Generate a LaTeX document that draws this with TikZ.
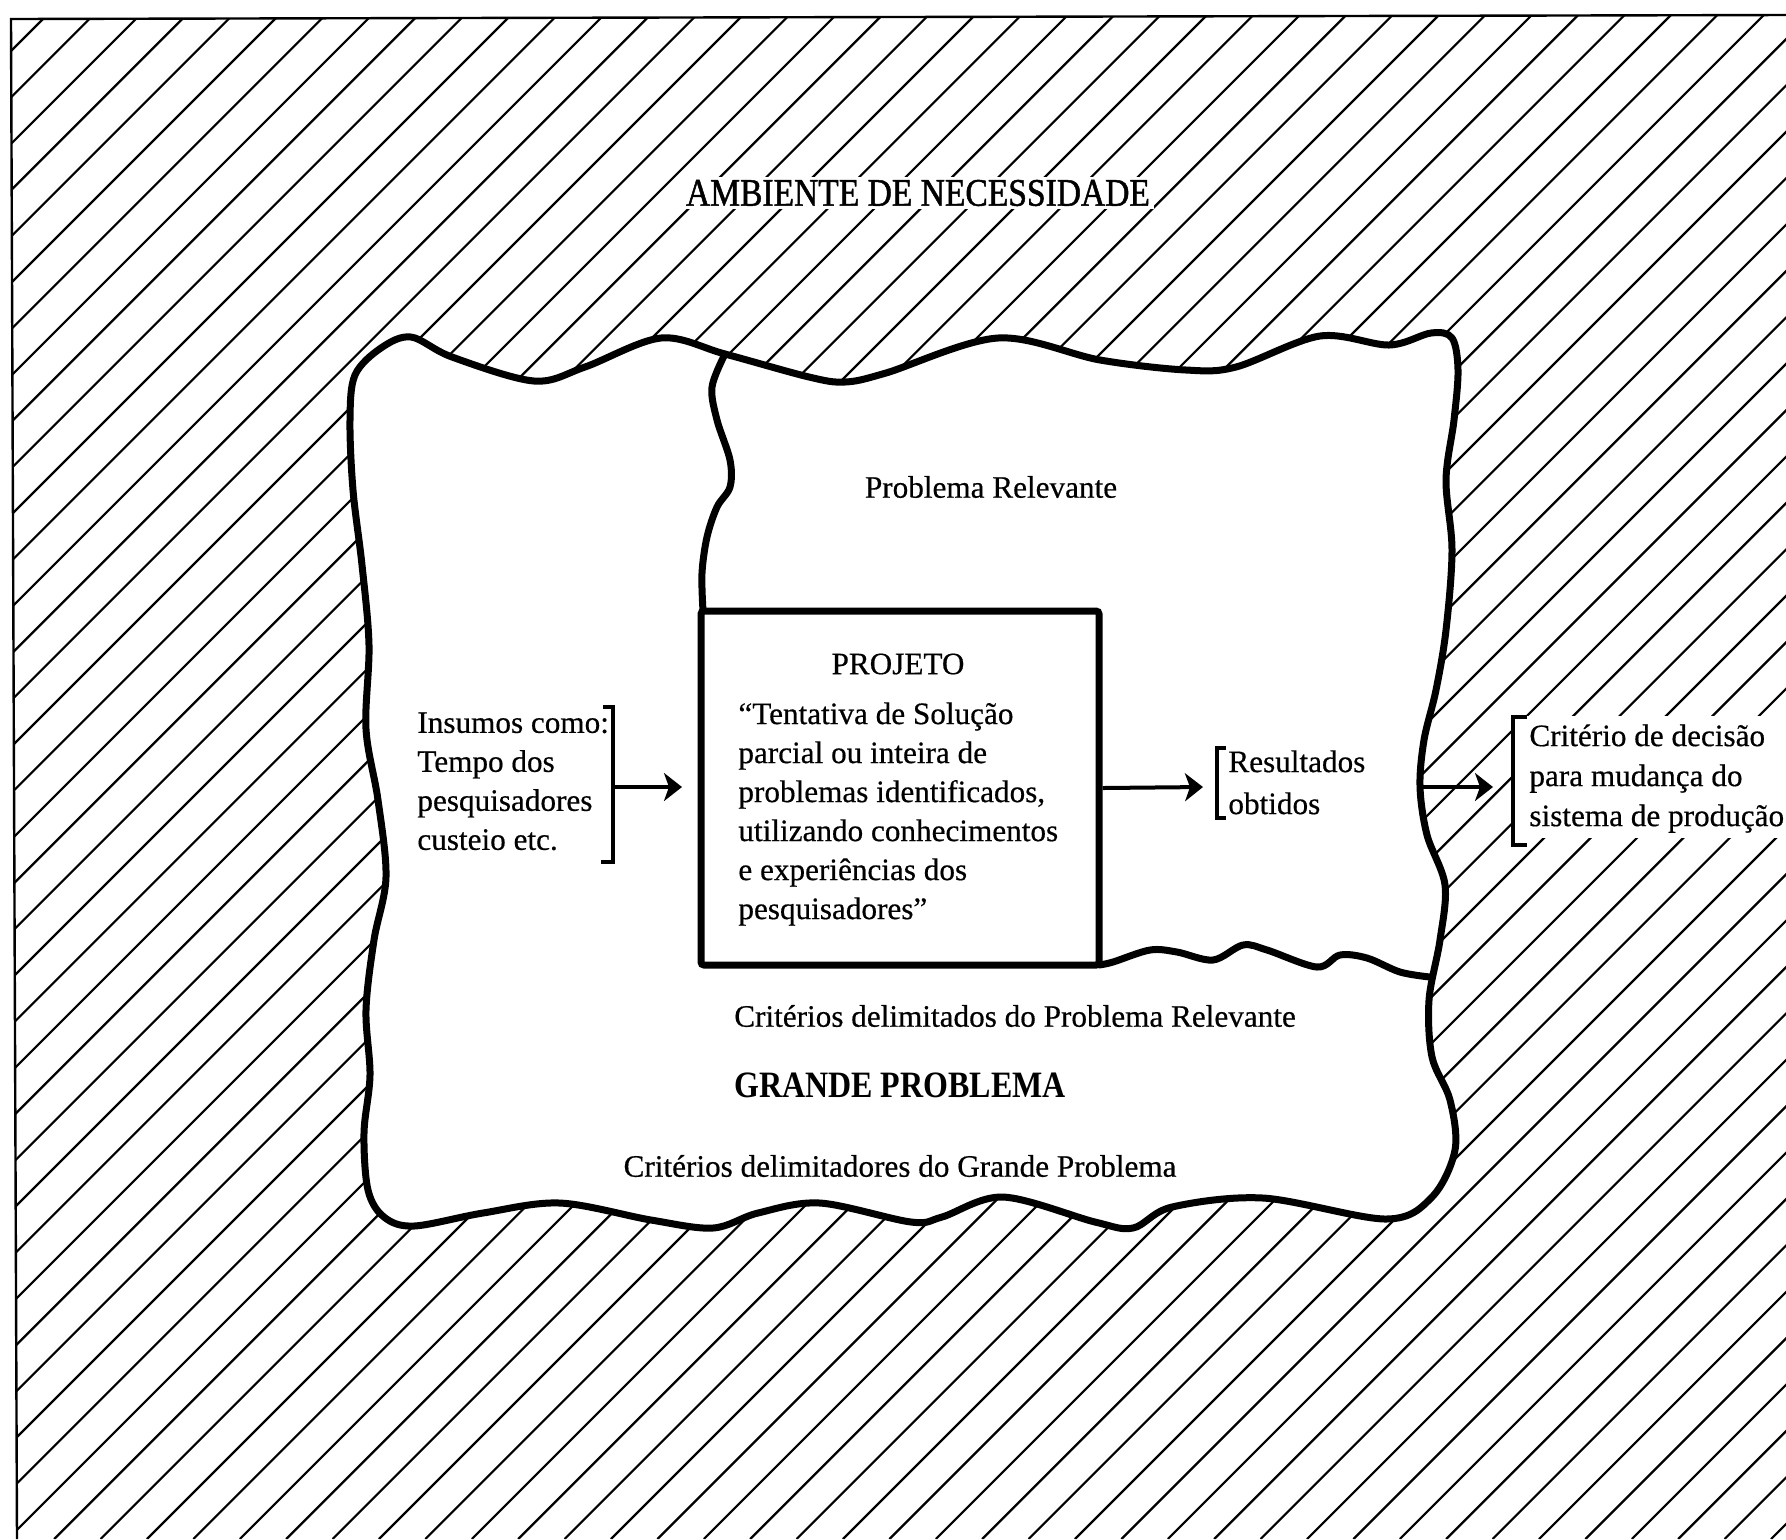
\documentclass[tikz,border=0pt]{standalone}
\usepackage{fontspec}
\setmainfont[FakeBold=0.5]{Liberation Serif}
\newfontfamily\condserif[FakeStretch=0.86]{Liberation Serif}
\newfontfamily\titleserif[FakeStretch=0.86,FakeBold=1.2]{Liberation Serif}
\usetikzlibrary{arrows.meta}
\begin{document}
\begin{tikzpicture}[x=0.5pt,y=-0.5pt,
  hatch/.style={line width=1.1pt},
  framel/.style={line width=1.2pt},
  blobline/.style={line width=3.5pt, line join=round, line cap=round},
  bodytext/.style={font=\fontsize{15.6pt}{19.5pt}\selectfont, inner sep=0pt, align=left, anchor=north west},
  ctext/.style={font=\fontsize{15.6pt}{19.5pt}\selectfont, inner sep=0pt},
  arr/.style={line width=2pt, -{Stealth[length=9pt,width=14pt,inset=2.5pt]}},
  brk/.style={line width=2pt, line join=miter},
]
\useasboundingbox (0,0) rectangle (1786,1539);
% hatching of the environment
\begin{scope}
  \clip (11,19) -- (1786,15) -- (1786,1539) -- (17,1539) -- cycle;
  \foreach \k in {0,...,72} {
    \pgfmathsetmacro\cc{62+46.4*\k}
    \draw[hatch] (\cc-15,15) -- (\cc-1539,1539);
  }
\end{scope}
\draw[framel] (1786,15) -- (11,19) -- (17,1539);

% big problem blob
\filldraw[blobline, fill=white] plot[smooth cycle, tension=0.55] coordinates {
 (350,420) (355,375) (381,348) (411,337) (452,357) (534,381) (585,367) (661,338)
 (725,354) (809,377) (845,382) (886,373) (998,338) (1100,360) (1186,370) (1236,367)
 (1320,336) (1389,345) (1431,333) (1452,338) (1458,370) (1454,420) (1446,480)
 (1452,550) (1446,630) (1436,690) (1424,740) (1420,787) (1427,835) (1445,885)
 (1440,940) (1429,1000) (1432,1057) (1450,1100) (1455,1150) (1432,1197) (1386,1219)
 (1263,1198) (1172,1207) (1133,1228) (1095,1222) (1003,1197) (942,1217) (911,1222)
 (820,1203) (758,1213) (713,1228) (651,1220) (560,1203) (483,1213) (414,1226)
 (384,1217) (368,1190) (364,1133) (370,1075) (366,1010) (374,940) (386,877)
 (378,800) (366,729) (369,645) (362,565) (353,490)};

% relevant problem boundaries
\draw[blobline] plot[smooth, tension=0.55] coordinates {
 (725,354) (712,387) (717,420) (730,460) (730,487) (717,507) (707,537) (702,573) (703,611)};
\draw[blobline] plot[smooth, tension=0.55] coordinates {
 (1099,965) (1113,962) (1150,950) (1177,952) (1213,960) (1243,945) (1267,950)
 (1317,967) (1340,955) (1367,958) (1400,972) (1430,977)};

% project box
\node (proj) [draw, line width=3.5pt, rounded corners=1.5pt, minimum width=199pt,
  minimum height=177pt, inner sep=0pt] at (900,788) {};

% texts
\node (title) [font=\titleserif\fontsize{19.5pt}{20pt}\selectfont, fill=white,
  inner xsep=2pt, inner ysep=1.5pt] at (918,193) {AMBIENTE DE NECESSIDADE};
\node (relev) [ctext] at (991,487) {Problema Relevante};
\node (projt) [ctext] at (898,664) {PROJETO};
\node (projb) [bodytext] at (738,702) {“Tentativa de Solução\\parcial ou inteira de\\problemas identificados,\\utilizando conhecimentos\\e experiências dos\\pesquisadores”};
\node (ins) [bodytext] at (417,712) {Insumos como:\\Tempo dos\\pesquisadores\\custeio etc.};
\node (res) [bodytext, font=\fontsize{15.6pt}{21pt}\selectfont] at (1228,750) {Resultados\\obtidos};
\fill[white] (1513,716) rectangle (1786,838);
\node (crit) [bodytext, font=\fontsize{15.6pt}{20pt}\selectfont] at (1529,724) {Critério de decisão\\para mudança do\\sistema de produção};
\node (critrel) [ctext] at (1015,1016) {Critérios delimitados do Problema Relevante};
\node (grande) [font=\condserif\bfseries\fontsize{18.6pt}{20pt}\selectfont, inner sep=0pt] at (900,1085) {GRANDE PROBLEMA};
\node (critgr) [ctext] at (900,1166) {Critérios delimitadores do Grande Problema};

% brackets
\coordinate (bLt) at (613,707);
\coordinate (bLb) at (613,862);
\draw[brk] ([xshift=-5pt]bLt) -- (bLt) -- (bLb) -- ([xshift=-6pt]bLb);
\coordinate (bRt) at (1217,748);
\coordinate (bRb) at (1217,818);
\draw[brk] ([xshift=4.5pt]bRt) -- (bRt) -- (bRb) -- ([xshift=4.5pt]bRb);
\coordinate (bCt) at (1513,717);
\coordinate (bCb) at (1513,845);
\draw[brk] ([xshift=7pt]bCt) -- (bCt) -- (bCb) -- ([xshift=7pt]bCb);

% arrows
\coordinate (inS) at (613,787);
\coordinate (inT) at (682,787);
\draw[arr] (inS) -- (inT);
\coordinate (resT) at (1203,787);
\draw[arr] (proj.east) -- (resT);
\coordinate (blobE) at (1421,787);
\coordinate (critT) at (1493,787);
\draw[arr] (blobE) -- (critT);
\end{tikzpicture}
\end{document}
